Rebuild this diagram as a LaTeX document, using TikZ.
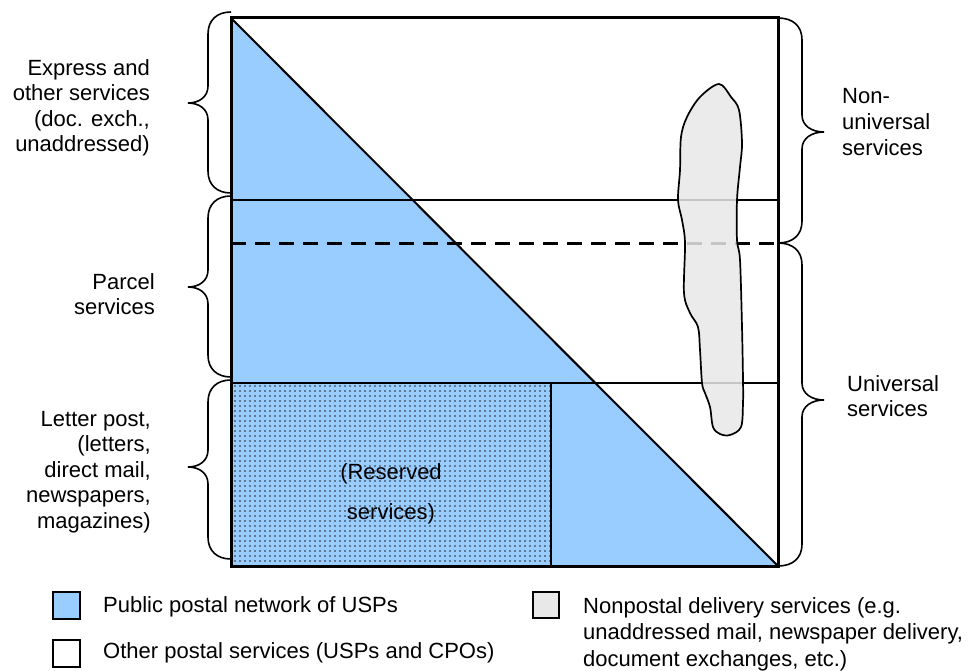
\documentclass[tikz,border=0pt]{standalone}
\usepackage{fontspec}
\setmainfont{Liberation Sans}
\usetikzlibrary{patterns.meta}
\definecolor{uspblue}{HTML}{99CCFF}
\definecolor{blobgray}{HTML}{E8E8E8}
\newcommand\braceleftside[4]{% #1 end x, #2 top y, #3 bottom y, #4 tip y
  \draw[bracestyle] (#1,#2) .. controls (#1-14,#2) and (#1-23,#2+8) .. (#1-23,#2+22)
    -- (#1-23,#4-17) .. controls (#1-23,#4-6) and (#1-32,#4) .. (#1-43,#4)
    .. controls (#1-32,#4) and (#1-23,#4+6) .. (#1-23,#4+17)
    -- (#1-23,#3-22) .. controls (#1-23,#3-8) and (#1-14,#3) .. (#1,#3);}
\newcommand\bracerightside[4]{%
  \draw[bracestyle] (#1,#2) .. controls (#1+15,#2) and (#1+24,#2+8) .. (#1+24,#2+22)
    -- (#1+24,#4-17) .. controls (#1+24,#4-6) and (#1+34,#4) .. (#1+46,#4)
    .. controls (#1+34,#4) and (#1+24,#4+6) .. (#1+24,#4+17)
    -- (#1+24,#3-22) .. controls (#1+24,#3-8) and (#1+15,#3) .. (#1,#3);}
\begin{document}
\begin{tikzpicture}[x=1pt,y=-1pt,
  bracestyle/.style={line width=1.6pt},
  lbl/.style={font=\fontsize{22}{25.5}\selectfont, inner sep=0pt},
  thinline/.style={line width=1.5pt},
  legbox/.style={line width=2.2pt, draw=black}]
\useasboundingbox (0,0) rectangle (976,671);
\coordinate (TL) at (231,18);
\coordinate (TR) at (778,18);
\coordinate (BR) at (778,566);
\coordinate (BL) at (231,566);
% blue triangle
\fill[uspblue] (TL) -- (BR) -- (BL) -- cycle;
% reserved area dots
\fill[pattern={Dots[distance=5pt,radius=0.8pt]}, pattern color=black!85] (231,383) rectangle (551,566);
% horizontal lines
\draw[thinline] (231,200) -- (778,200);
\draw[thinline] (231,383) -- (778,383);
\draw[line width=3pt, dash pattern=on 15pt off 9pt] (231,243) -- (778,243);
% reserved box edges
\draw[line width=2pt] (231,383) -- (551,383) -- (551,566);
% diagonal
\draw[line width=2pt] (TL) -- (BR);
% nonpostal blob
\filldraw[fill=blobgray, fill opacity=0.85, draw=black, line width=1.7pt]
  plot[smooth cycle, tension=0.55] coordinates {
  (719,84) (700,97) (687,117) (681,137) (680,170) (678,200) (682,220) (685,243)
  (684,293) (690,313) (698,327) (700,350) (702,383) (705,393) (710,407) (713,427)
  (720,434) (730,435) (741,427) (743,403) (743,380) (742,327) (740,260) (737,240)
  (737,200) (740,167) (742,143) (739,110) (731,97)};
% square border
\draw[line width=3pt] (TL) rectangle (BR);
% braces
\braceleftside{231}{12}{193}{103}
\braceleftside{231}{196}{377}{287}
\braceleftside{231}{380}{559}{467}
\bracerightside{778}{18}{243}{132}
\bracerightside{778}{243}{566}{400}
% labels
\node[lbl, align=right, anchor=east] (express) at (150,108) {Express and\\other services\\(doc. exch.,\\unaddressed)};
\node[lbl, align=right, anchor=east] (parcel) at (155,294) {Parcel\\services};
\node[lbl, align=right, anchor=east] (letter) at (151,472) {Letter post,\\(letters,\\direct mail,\\newspapers,\\magazines)};
\node[lbl, align=left, anchor=west, font=\fontsize{22}{26}\selectfont] (nonuniv) at (842,122) {Non-\\universal\\services};
\node[lbl, align=left, anchor=west, font=\fontsize{22}{25.5}\selectfont] (univ) at (847,396) {Universal\\services};
\node[lbl, align=center, font=\fontsize{22}{40}\selectfont] (reserved) at (391,494) {(Reserved\\services)};
% legend
\draw[legbox, fill=uspblue] (53,592) rectangle (80,619);
\draw[legbox, fill=white] (53,640) rectangle (80,667);
\draw[legbox, fill=blobgray] (533,592) rectangle (559,618);
\node[lbl, anchor=west] (leg1) at (103,607) {Public postal network of USPs};
\node[lbl, anchor=west] (leg2) at (103,653) {Other postal services (USPs and CPOs)};
\node[lbl, anchor=west, align=left, font=\fontsize{22}{26.5}\selectfont] (leg3) at (583,634) {Nonpostal delivery services (e.g.\\unaddressed mail, newspaper delivery,\\document exchanges, etc.)};
\end{tikzpicture}
\end{document}
